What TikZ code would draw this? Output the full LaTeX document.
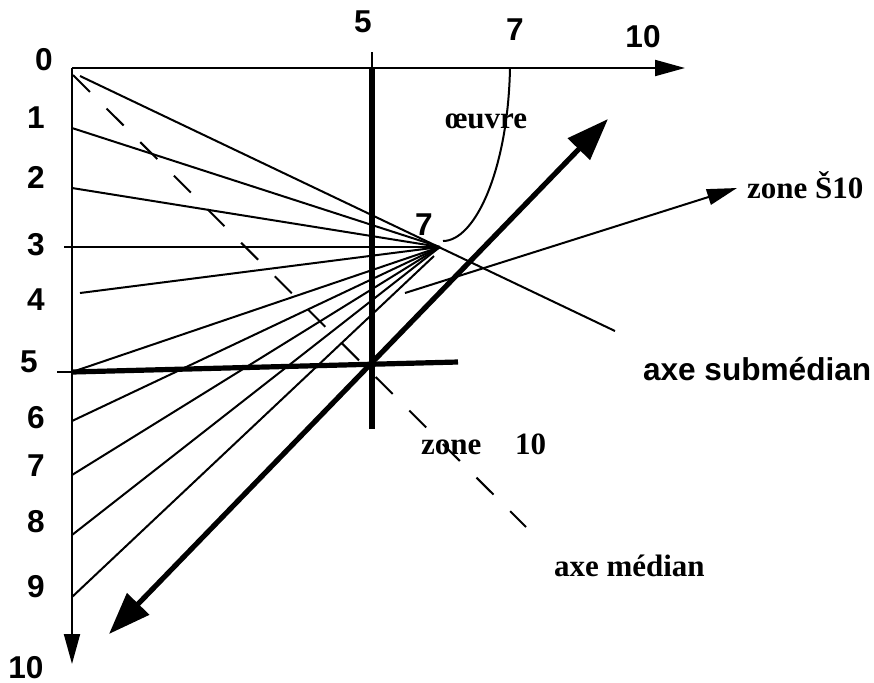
\documentclass[tikz,border=0pt]{standalone}
\usepackage{fontspec}
\setmainfont{Liberation Serif}
\newfontfamily\sansbold{Liberation Sans Bold}
\newfontfamily\serifbold{Liberation Serif Bold}
\usepackage{tikz}
\usetikzlibrary{arrows.meta}

\newcommand{\numfont}{\sansbold\fontsize{15.8}{18}\selectfont}
\newcommand{\txtfont}{\serifbold\fontsize{15.5}{18}\selectfont}

\begin{document}
\begin{tikzpicture}[x=0.5pt,y=-0.5pt, line width=1pt,
  num/.style={font=\numfont, anchor=base, inner sep=0pt},
  txt/.style={font=\txtfont, anchor=base west, inner sep=0pt},
  heavy/.style={line width=2.6pt},
  axarrow/.style={-{Triangle[length=15pt,width=8pt]}},
  bigtip/.style={{Triangle[length=21pt,width=15pt]}-{Triangle[length=21pt,width=15pt]}}]
  \useasboundingbox (0,0) rectangle (874,682);
  % axes
  \coordinate (O) at (72,68);
  \coordinate (xend) at (685,68);
  \coordinate (yend) at (72,664);
  \draw[axarrow] (O) -- (xend);
  \draw[axarrow] (O) -- (yend);
  % points on the left axis and the pole
  \coordinate (P) at (440,247);
  \coordinate (l0) at (80,76);
  \coordinate (l1) at (72,128);
  \coordinate (l2) at (72,188);
  \coordinate (l3) at (64,247);
  \coordinate (l4) at (80,293);
  \coordinate (l5) at (72,372);
  \coordinate (l6) at (72,421);
  \coordinate (l7) at (72,475);
  \coordinate (l8) at (72,535);
  \coordinate (l9) at (72,597);
  \coordinate (s9) at (434,256);
  \coordinate (sub) at (615,331);
  \foreach \p in {l1,l2,l3,l4,l5,l6,l7,l8}
    \draw (\p) -- (P);
  \draw (l9) -- (s9);
  \draw (l0) -- (sub);
  % median axis
  \coordinate (m0) at (73,75);
  \coordinate (m1) at (526,527);
  \draw[dash pattern=on 12pt off 11.75pt] (m0) -- (m1);
  % cross at 5/5
  \coordinate (v0) at (372,52);
  \coordinate (v1) at (372,68);
  \coordinate (v2) at (372,429);
  \draw (v0) -- (v1);
  \draw[heavy] (v1) -- (v2);
  \coordinate (h0) at (57,372);
  \coordinate (h1) at (458,362);
  \draw (h0) -- (l5);
  \draw[heavy] (l5) -- (h1);
  \coordinate (d1) at (109,634);
  \coordinate (d2) at (608,119);
  \draw[heavy, bigtip] (d1) -- (d2);
  % zone arrow
  \coordinate (z0) at (405,293);
  \coordinate (z1) at (737,188);
  \draw[axarrow] (z0) -- (z1);
  % oeuvre curve
  \coordinate (c7) at (510,68);
  \coordinate (cend) at (443,241);
  \draw (c7) .. controls (508,170) and (475,241) .. (cend);
  % numbers
  \node[num] (n0) at (44,70) {0};
  \node[num] (n1) at (36,128) {1};
  \node[num] (n2) at (36,188) {2};
  \node[num] (n3) at (36,255) {3};
  \node[num] (n4) at (36,310) {4};
  \node[num] (n5) at (29,372) {5};
  \node[num] (n6) at (36,428) {6};
  \node[num] (n7) at (36,476) {7};
  \node[num] (n8) at (36,532) {8};
  \node[num] (n9) at (36,597) {9};
  \node[num] (n10) at (26,678) {10};
  \node[num] (t5) at (363,32) {5};
  \node[num] (t7) at (515,40) {7};
  \node[num] (t10) at (643,47) {10};
  \node[num] (p7) at (424,235) {7};
  % texts
  \node[txt] (oeuvre) at (444,128) {œuvre};
  \node[txt] (zoneS) at (746,198) {zone Š10};
  \node[txt] (zone10) at (420,454) {zone\hspace{17pt}10};
  \node[txt] (amed) at (553,576) {axe médian};
  \node[txt, font=\numfont] (asub) at (642,380) {axe submédian};
\end{tikzpicture}
\end{document}
